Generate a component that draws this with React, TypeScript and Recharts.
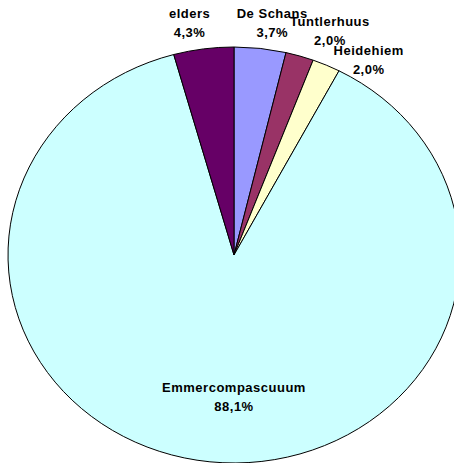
import React from 'react';
import { PieChart, Pie, Cell } from 'recharts';

const names = ['De Schans', 'Tuntlerhuus', 'Heidehiem', 'Emmercompascuuum', 'elders'];
const values = [3.7, 2.0, 2.0, 88.1, 4.3];
const colors = ['#9999FF', '#993366', '#FFFFCC', '#CCFFFF', '#660066'];

const data = names.map((name, i) => ({ name, value: values[i] }));

const RAD = Math.PI / 180;
const X_STRETCH = 226 / 208;
const LINE_H = 19;
const START = 90;

const EllipseSector = (props: any) => {
  const { cx, cy, outerRadius, startAngle, endAngle, fill } = props;
  const rx = outerRadius * X_STRETCH;
  const ry = outerRadius;
  const x1 = cx + rx * Math.cos(startAngle * RAD);
  const y1 = cy - ry * Math.sin(startAngle * RAD);
  const x2 = cx + rx * Math.cos(endAngle * RAD);
  const y2 = cy - ry * Math.sin(endAngle * RAD);
  const large = Math.abs(startAngle - endAngle) > 180 ? 1 : 0;
  const sweep = endAngle < startAngle ? 1 : 0;
  const d = `M${cx},${cy} L${x1},${y1} A${rx},${ry} 0 ${large} ${sweep} ${x2},${y2} Z`;
  return <path d={d} fill={fill} stroke="#000" strokeWidth={1} strokeLinejoin="miter" />;
};

// label layout: outside labels on a wider ellipse, pushed down when they collide with an earlier one
function layoutLabels(cx: number, cy: number, outerRadius: number) {
  const total = values.reduce((a, b) => a + b, 0);
  const rx = outerRadius * X_STRETCH;
  const ry = outerRadius;
  let acc = START;
  const boxes: { x: number; y: number; w: number; inside: boolean }[] = [];
  values.forEach((v, i) => {
    const span = (v / total) * 360;
    const mid = acc - span / 2;
    acc -= span;
    const inside = v / total > 0.5;
    const fx = inside ? 0 : 1.46;
    const fy = inside ? 0.68 : 1.13;
    const x = cx + rx * fx * Math.cos(mid * RAD);
    let y = cy - ry * fy * Math.sin(mid * RAD);
    const w = names[i].length * 5;
    if (!inside) {
      for (const b of boxes) {
        if (b.inside) continue;
        const ox = x - w / 2 < b.x + b.w / 2 && x + w / 2 > b.x - b.w / 2;
        const oy = Math.abs(y - b.y) < 2 * LINE_H;
        if (ox && oy) y = b.y + LINE_H * 1.5;
      }
    }
    boxes.push({ x, y, w, inside });
  });
  return boxes;
}

const renderLabel = (props: any) => {
  const { cx, cy, outerRadius, name, value } = props;
  const i = names.indexOf(name);
  const boxes = layoutLabels(cx, cy, outerRadius);
  const { x, y } = boxes[i];
  const txt = value.toFixed(1).replace('.', ',') + '%';
  return (
    <text
      x={x}
      y={y}
      textAnchor="middle"
      fontFamily="'Liberation Sans', Arial, sans-serif"
      fontWeight="bold"
      fontSize={13}
      letterSpacing={0.5}
      fill="#000"
    >
      <tspan x={x} dy={-4}>{name}</tspan>
      <tspan x={x} dy={LINE_H}>{txt}</tspan>
    </text>
  );
};

export default function App() {
  return (
    <div style={{ position: 'absolute', left: 0, top: 0, width: 454, height: 463, background: '#fff', overflow: 'hidden' }}>
      <PieChart width={454} height={463} margin={{ top: 0, right: 0, bottom: 0, left: 0 }}>
        <Pie
          data={data}
          dataKey="value"
          nameKey="name"
          cx={234}
          cy={255}
          outerRadius={208}
          startAngle={START}
          endAngle={START - 360}
          isAnimationActive={false}
          shape={EllipseSector}
          activeShape={EllipseSector}
          inactiveShape={EllipseSector}
          label={renderLabel}
          labelLine={false}
        >
          {data.map((d, i) => (
            <Cell key={d.name} fill={colors[i]} />
          ))}
        </Pie>
      </PieChart>
    </div>
  );
}
